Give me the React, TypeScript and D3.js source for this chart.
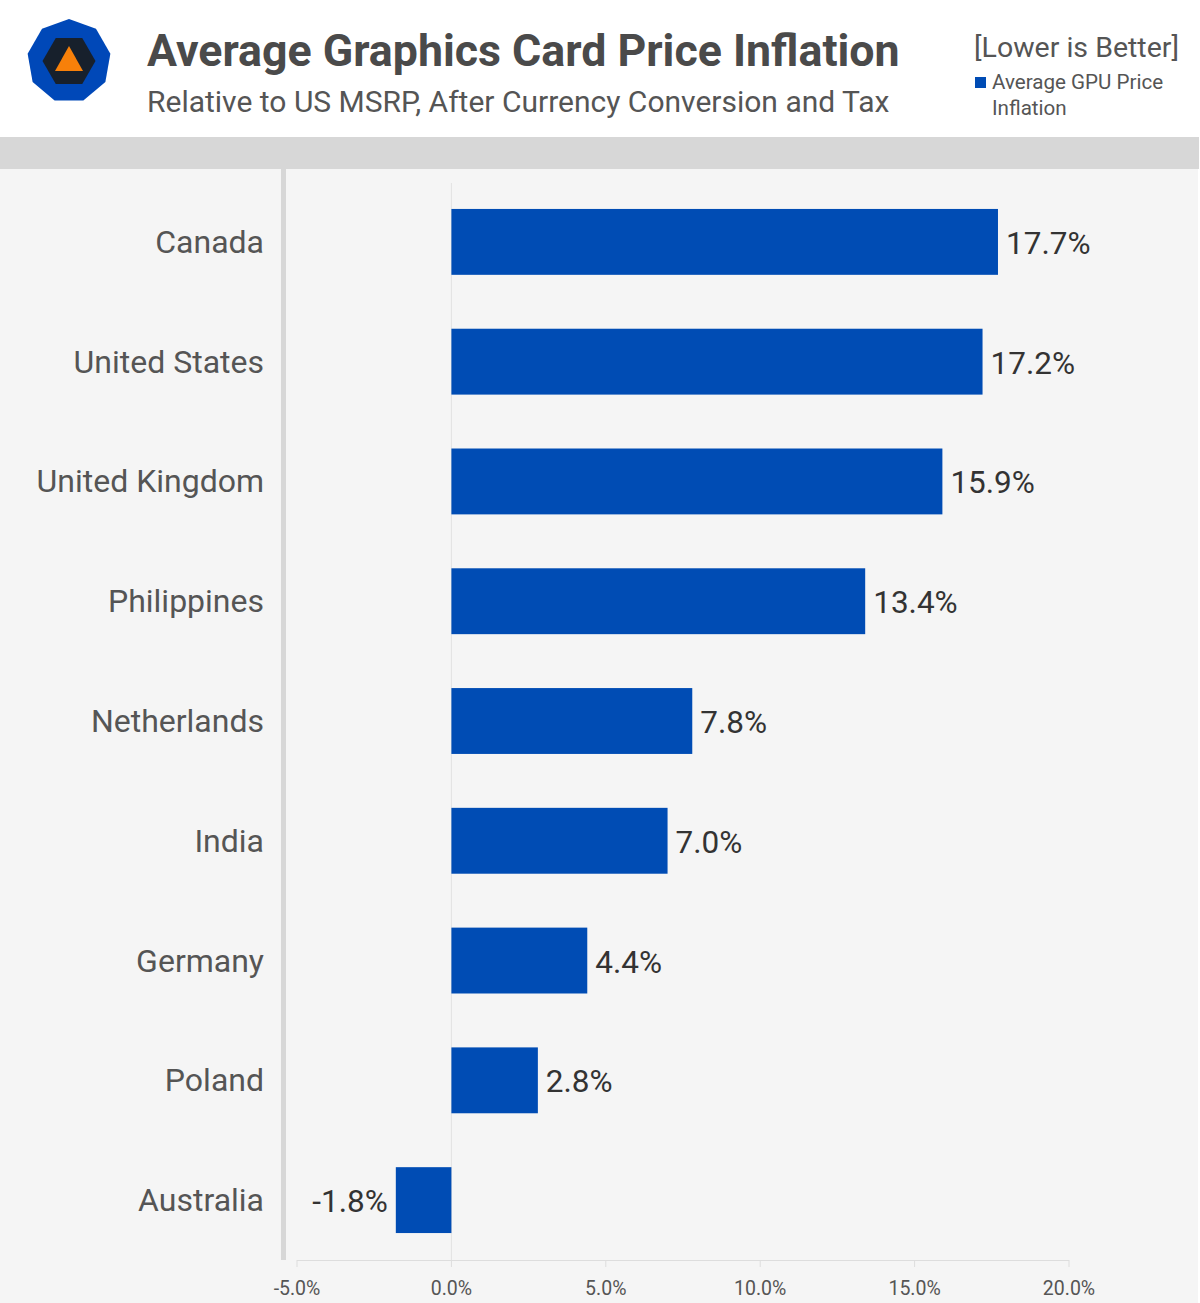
import React from "react";
import * as d3 from "d3";

const countries = ["Canada", "United States", "United Kingdom", "Philippines", "Netherlands", "India", "Germany", "Poland", "Australia"];
const inflation = [17.7, 17.2, 15.9, 13.4, 7.8, 7.0, 4.4, 2.8, -1.8];
const xTicks = [-5, 0, 5, 10, 15, 20];
const seriesName = ["Average GPU Price", "Inflation"];

const W = 1200;
const H = 1303;
const FONT = "Roboto, 'Noto Sans', sans-serif";
const BLUE = "#004cb4";

export default function App() {
  const x = d3.scaleLinear().domain([-5, 20]).range([297, 1069]);
  const y = d3.scaleBand<string>().domain(countries).range([182, 1260]).paddingInner(0.45).paddingOuter(0.225);

  // logo shapes
  const cx = 69, cy = 61;
  const nonagon = d3.range(9).map((i) => {
    const a = -Math.PI / 2 + (i * 2 * Math.PI) / 9;
    return [cx + 42 * Math.cos(a), cy + 42 * Math.sin(a)];
  });
  const hexagon = d3.range(6).map((i) => {
    const a = (i * Math.PI) / 3;
    return [cx + 26.5 * Math.cos(a), cy + 26.5 * Math.sin(a)];
  });
  const tri = [[cx, 46], [cx - 14, 71], [cx + 14, 71]];
  const pts = (p: number[][]) => p.map((q) => q.join(",")).join(" ");

  return (
    <svg width={W} height={H} style={{ display: "block", position: "absolute", left: 0, top: 0 }} fontFamily={FONT}>
      <rect x={0} y={0} width={W} height={H} fill="#ffffff" />
      <rect x={0} y={137} width={1199} height={32} fill="#d7d7d7" />
      <rect x={0} y={169} width={1198} height={H - 169} fill="#f5f5f5" />

      {/* logo */}
      <polygon points={pts(nonagon)} fill="#0048b8" />
      <polygon points={pts(hexagon)} fill="#17202c" />
      <polygon points={pts(tri)} fill="#f7800a" />

      {/* title */}
      <text x={147} y={66} fontSize={44.7} fontWeight={700} fill="#4a4a4a">Average Graphics Card Price Inflation</text>
      <text x={147} y={112} fontSize={30} fill="#555555">Relative to US MSRP, After Currency Conversion and Tax</text>

      {/* legend */}
      <text x={1179} y={57} fontSize={28.5} fill="#555555" textAnchor="end">[Lower is Better]</text>
      <rect x={975} y={77} width={11} height={11} fill={BLUE} />
      <text x={992} y={89} fontSize={20.6} fill="#555555">{seriesName[0]}</text>
      <text x={992} y={115} fontSize={20.6} fill="#555555">{seriesName[1]}</text>

      {/* left bar */}
      <rect x={281} y={169} width={5} height={1260 - 169} fill="#d7d7d7" />

      {/* zero gridline */}
      <line x1={x(0)} x2={x(0)} y1={183} y2={1260} stroke="#e2e2e2" strokeWidth={1} />

      {/* bars */}
      {countries.map((c, i) => {
        const v = inflation[i];
        const x0 = x(Math.min(0, v));
        const x1 = x(Math.max(0, v));
        const yc = (y(c) as number) + y.bandwidth() / 2;
        return (
          <g key={c}>
            <rect x={x0} y={y(c)} width={x1 - x0} height={y.bandwidth()} fill={BLUE} />
            <text
              x={v >= 0 ? x1 + 8 : x0 - 8}
              y={yc + 12}
              fontSize={31.5}
              fill="#333333"
              textAnchor={v >= 0 ? "start" : "end"}
            >
              {v.toFixed(1)}%
            </text>
            <text x={264} y={yc + 11} fontSize={32} fill="#555555" textAnchor="end">{c}</text>
          </g>
        );
      })}

      {/* x axis */}
      <line x1={x(-5)} x2={x(20)} y1={1260.5} y2={1260.5} stroke="#dddddd" strokeWidth={1} />
      {xTicks.map((t) => (
        <g key={t}>
          <line x1={x(t)} x2={x(t)} y1={1260} y2={1267} stroke="#dddddd" strokeWidth={1} />
          <text x={x(t)} y={1295} fontSize={19.5} fill="#555555" textAnchor="middle">{t.toFixed(1)}%</text>
        </g>
      ))}
    </svg>
  );
}
